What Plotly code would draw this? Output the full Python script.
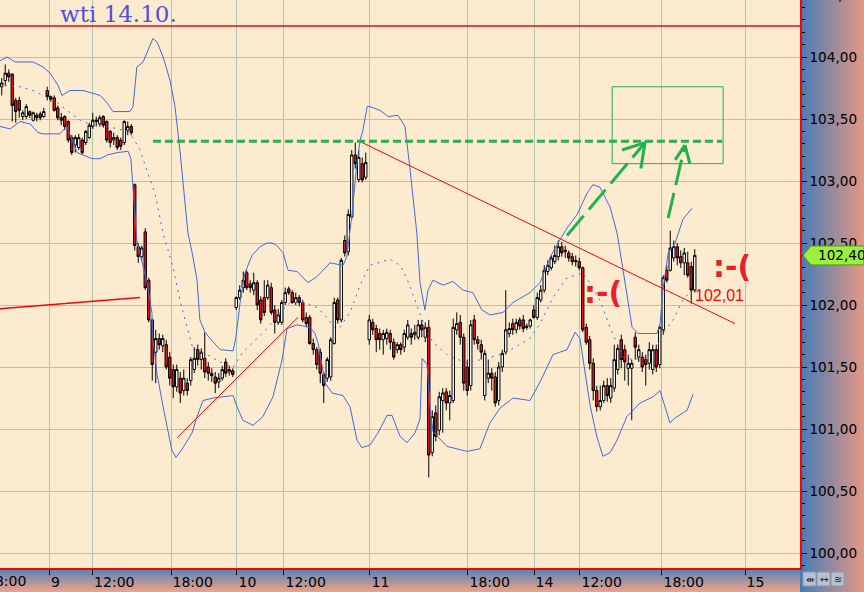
import plotly.graph_objects as go

# ---------------- data ----------------
bar_index = list(range(199))

open_ = [
    103.76, 103.81, 103.87, 103.86, 103.65, 103.65, 103.52, 103.52, 103.56, 103.49,
    103.53, 103.54, 103.52, 103.73, 103.68, 103.67, 103.59, 103.51, 103.52, 103.48,
    103.35, 103.29, 103.27, 103.33, 103.31, 103.35, 103.44, 103.48, 103.46, 103.52,
    103.48, 103.40, 103.33, 103.35, 103.33, 103.31, 103.41, 103.44, 102.97, 102.47,
    102.39, 102.59, 102.20, 101.88, 101.62, 101.73, 101.67, 101.68, 101.58, 101.48,
    101.34, 101.41, 101.31, 101.37, 101.39, 101.48, 101.64, 101.56, 101.57, 101.50,
    101.45, 101.42, 101.38, 101.41, 101.54, 101.46, 101.47, 101.98, 102.06, 102.14,
    102.26, 102.17, 102.12, 102.18, 102.04, 102.06, 102.06, 102.14, 101.96, 101.86,
    101.86, 102.02, 102.13, 102.10, 102.02, 102.06, 102.02, 101.90, 101.90, 101.69,
    101.64, 101.62, 101.44, 101.41, 101.42, 101.69, 102.04, 101.88, 102.52, 102.43,
    102.71, 103.21, 103.01, 103.14, 103.03, 101.72, 101.86, 101.81, 101.77, 101.72,
    101.73, 101.77, 101.70, 101.64, 101.68, 101.66, 101.74, 101.77, 101.76, 101.74,
    101.84, 101.74, 101.82, 100.81, 101.13, 100.99, 101.23, 101.30, 101.21, 101.23,
    101.80, 101.86, 101.74, 101.50, 101.35, 101.88, 101.72, 101.68, 101.27, 101.41,
    101.45, 101.42, 101.23, 101.50, 101.62, 101.77, 101.85, 101.80, 101.88, 101.88,
    101.83, 101.83, 101.96, 101.90, 102.04, 102.12, 102.27, 102.30, 102.35, 102.39,
    102.47, 102.43, 102.42, 102.39, 102.36, 102.35, 102.30, 101.82, 101.72, 101.53,
    101.31, 101.18, 101.23, 101.35, 101.25, 101.33, 101.48, 101.72, 101.64, 101.49,
    101.49, 101.74, 101.58, 101.58, 101.56, 101.53, 101.48, 101.64, 101.52, 101.80,
    102.28, 102.28, 102.38, 102.47, 102.39, 102.34, 102.34, 102.31, 102.12,
]
high = [
    103.83, 103.94, 103.90, 103.87, 103.67, 103.68, 103.57, 103.62, 103.57, 103.56,
    103.55, 103.56, 103.59, 103.76, 103.69, 103.69, 103.61, 103.55, 103.53, 103.49,
    103.37, 103.37, 103.38, 103.35, 103.41, 103.47, 103.55, 103.52, 103.53, 103.53,
    103.49, 103.41, 103.39, 103.37, 103.35, 103.49, 103.48, 103.46, 102.98, 102.50,
    102.48, 102.62, 102.22, 101.89, 101.80, 101.77, 101.76, 101.72, 101.62, 101.52,
    101.52, 101.46, 101.48, 101.41, 101.58, 101.66, 101.68, 101.65, 101.78, 101.54,
    101.49, 101.46, 101.45, 101.51, 101.57, 101.51, 101.49, 102.07, 102.16, 102.27,
    102.28, 102.20, 102.26, 102.20, 102.07, 102.20, 102.20, 102.18, 102.00, 101.97,
    102.04, 102.14, 102.15, 102.12, 102.10, 102.08, 102.04, 101.94, 101.92, 101.73,
    101.66, 101.65, 101.46, 101.58, 101.74, 102.06, 102.06, 102.38, 102.56, 102.77,
    103.25, 103.31, 103.25, 103.19, 103.23, 101.92, 101.89, 101.84, 101.81, 101.80,
    101.81, 101.80, 101.73, 101.70, 101.70, 101.80, 101.88, 101.81, 101.84, 101.88,
    101.88, 101.86, 101.88, 101.15, 101.19, 101.30, 101.33, 101.33, 101.31, 101.89,
    101.94, 101.92, 101.77, 101.56, 101.88, 101.92, 101.75, 101.72, 101.64, 101.56,
    101.49, 101.46, 101.54, 101.64, 102.12, 101.86, 101.89, 101.89, 101.90, 101.92,
    101.85, 101.89, 102.00, 102.10, 102.16, 102.32, 102.36, 102.40, 102.48, 102.52,
    102.51, 102.48, 102.44, 102.42, 102.40, 102.38, 102.31, 101.85, 101.75, 101.57,
    101.35, 101.35, 101.39, 101.41, 101.41, 101.68, 101.68, 101.76, 101.68, 101.60,
    101.56, 101.78, 101.68, 101.62, 101.60, 101.70, 101.68, 101.68, 101.84, 102.24,
    102.32, 102.60, 102.52, 102.50, 102.44, 102.46, 102.43, 102.35, 102.45,
]
low = [
    103.69, 103.77, 103.80, 103.48, 103.47, 103.51, 103.49, 103.50, 103.51, 103.48,
    103.48, 103.49, 103.51, 103.65, 103.64, 103.56, 103.49, 103.45, 103.41, 103.31,
    103.21, 103.23, 103.25, 103.21, 103.29, 103.34, 103.42, 103.44, 103.44, 103.43,
    103.31, 103.27, 103.29, 103.25, 103.25, 103.29, 103.37, 103.37, 102.44, 102.34,
    102.36, 102.12, 101.86, 101.39, 101.37, 101.64, 101.62, 101.48, 101.35, 101.25,
    101.30, 101.21, 101.27, 101.27, 101.35, 101.45, 101.51, 101.48, 101.41, 101.39,
    101.38, 101.29, 101.33, 101.39, 101.42, 101.43, 101.42, 101.96, 102.04, 102.10,
    102.12, 102.10, 102.08, 101.96, 101.85, 101.91, 102.04, 101.92, 101.77, 101.84,
    101.84, 102.00, 102.08, 102.01, 102.00, 101.99, 101.86, 101.82, 101.68, 101.60,
    101.48, 101.37, 101.21, 101.38, 101.39, 101.68, 101.85, 101.86, 102.39, 102.40,
    102.69, 103.10, 102.99, 102.99, 103.01, 101.68, 101.76, 101.62, 101.64, 101.60,
    101.68, 101.64, 101.56, 101.61, 101.60, 101.62, 101.72, 101.68, 101.72, 101.72,
    101.74, 101.70, 100.61, 100.78, 100.90, 100.95, 100.97, 101.15, 101.07, 101.21,
    101.76, 101.68, 101.31, 101.27, 101.31, 101.68, 101.64, 101.56, 101.23, 101.37,
    101.31, 101.18, 101.19, 101.46, 101.60, 101.74, 101.76, 101.77, 101.80, 101.78,
    101.80, 101.81, 101.89, 101.88, 102.02, 102.10, 102.24, 102.28, 102.33, 102.36,
    102.39, 102.38, 102.35, 102.32, 102.31, 102.28, 101.78, 101.68, 101.48, 101.23,
    101.14, 101.15, 101.21, 101.22, 101.21, 101.30, 101.44, 101.49, 101.39, 101.35,
    101.07, 101.56, 101.54, 101.46, 101.35, 101.48, 101.44, 101.46, 101.49, 101.76,
    102.18, 102.27, 102.35, 102.32, 102.30, 102.24, 102.22, 102.01, 102.10,
]
close = [
    103.79, 103.87, 103.84, 103.61, 103.56, 103.57, 103.55, 103.60, 103.53, 103.55,
    103.51, 103.51, 103.56, 103.68, 103.66, 103.57, 103.51, 103.49, 103.44, 103.33,
    103.23, 103.35, 103.35, 103.23, 103.40, 103.45, 103.49, 103.49, 103.51, 103.45,
    103.33, 103.31, 103.35, 103.27, 103.28, 103.48, 103.44, 103.39, 102.48, 102.39,
    102.46, 102.14, 101.88, 101.52, 101.73, 101.68, 101.73, 101.50, 101.41, 101.34,
    101.48, 101.29, 101.41, 101.31, 101.56, 101.57, 101.56, 101.62, 101.46, 101.45,
    101.43, 101.37, 101.41, 101.48, 101.45, 101.48, 101.44, 102.06, 102.12, 102.20,
    102.14, 102.14, 102.18, 102.00, 101.88, 101.94, 102.16, 101.94, 101.86, 101.92,
    102.02, 102.10, 102.10, 102.02, 102.06, 102.02, 101.88, 101.85, 101.69, 101.64,
    101.52, 101.45, 101.35, 101.56, 101.72, 102.02, 101.88, 102.36, 102.42, 102.73,
    103.21, 103.14, 103.19, 103.01, 103.15, 101.88, 101.80, 101.72, 101.72, 101.77,
    101.78, 101.70, 101.58, 101.68, 101.64, 101.77, 101.84, 101.74, 101.78, 101.84,
    101.80, 101.82, 100.79, 101.10, 100.94, 101.26, 101.29, 101.21, 101.27, 101.82,
    101.85, 101.74, 101.37, 101.31, 101.84, 101.72, 101.69, 101.62, 101.61, 101.45,
    101.41, 101.21, 101.50, 101.61, 101.80, 101.81, 101.80, 101.86, 101.83, 101.81,
    101.82, 101.88, 101.90, 102.06, 102.12, 102.28, 102.32, 102.38, 102.40, 102.47,
    102.42, 102.44, 102.38, 102.35, 102.35, 102.30, 101.80, 101.70, 101.53, 101.31,
    101.18, 101.23, 101.35, 101.27, 101.35, 101.56, 101.65, 101.56, 101.54, 101.53,
    101.53, 101.66, 101.64, 101.50, 101.52, 101.64, 101.64, 101.50, 101.82, 102.22,
    102.20, 102.46, 102.47, 102.38, 102.34, 102.42, 102.24, 102.12, 102.40,
]

# Bollinger bands (bar position, price)
upper_x = [-0.5, 1.5, 3.8, 8.9, 11.8, 13.8, 16.1, 17.2, 19.5, 23.2, 28.1, 30.1, 31.8, 36.6, 37.5,
           38.6, 40.4, 41.8, 43.2, 44.4, 46.1, 48.1, 49.5, 50.9, 51.8, 53.2, 54.4, 55.8, 56.6, 58.1,
           59.5, 62.4, 66.1, 66.9, 68.1, 69.5, 71.5, 73.8, 75.8, 77.2, 78.6, 80.4, 81.8, 84.4, 87.5,
           90.1, 93.8, 97.5, 98.6, 100.1, 101.5, 102.4, 103.2, 104.4, 105.2, 108.1, 110.4, 113.2, 115.2,
           116.6, 118.6, 119.5, 120.9, 121.8, 123.2, 126.1, 128.9, 131.8, 134.6, 137.2, 139.5, 143.2,
           146.1, 150.9, 153.8, 156.6, 158.9, 161.5, 164.4, 167.2, 168.9, 170.9, 173.8, 175.8, 177.2,
           178.6, 180.1, 181.8, 187.2, 188.1, 188.9, 190.4, 192.4, 194.6, 197.2]
upper_y = [103.97, 104.00, 103.96, 103.96, 103.92, 103.87, 103.77, 103.69, 103.73, 103.73, 103.69,
           103.63, 103.56, 103.56, 103.60, 103.92, 103.96, 104.06, 104.15, 104.12, 104.00, 103.81,
           103.60, 103.25, 103.01, 102.58, 102.42, 102.20, 101.88, 101.78, 101.73, 101.64, 101.63,
           101.74, 102.02, 102.26, 102.40, 102.47, 102.50, 102.50, 102.48, 102.42, 102.28, 102.27,
           102.18, 102.23, 102.34, 102.32, 102.39, 102.74, 103.15, 103.33, 103.41, 103.60, 103.60,
           103.57, 103.52, 103.53, 103.44, 103.11, 102.58, 102.18, 101.96, 102.12, 102.20, 102.16,
           102.19, 102.12, 102.10, 101.96, 101.92, 101.94, 102.02, 102.10, 102.18, 102.38, 102.50,
           102.62, 102.73, 102.90, 102.97, 102.95, 102.79, 102.58, 102.34, 102.10, 101.82, 101.77,
           101.77, 101.85, 102.12, 102.42, 102.50, 102.69, 102.78]
lower_x = [-0.5, 2.4, 5.2, 8.1, 10.4, 11.8, 16.6, 18.6, 21.5, 25.8, 28.1, 30.1, 33.2, 36.1, 36.9,
           37.5, 38.6, 41.5, 42.9, 43.2, 44.4, 46.1, 47.2, 48.6, 49.8, 51.8, 54.4, 55.8, 57.5, 60.4,
           66.1, 67.2, 68.9, 71.8, 74.6, 77.5, 80.1, 81.5, 84.4, 88.1, 89.5, 90.4, 92.4, 94.4, 97.5,
           99.5, 101.5, 102.9, 105.2, 107.5, 110.1, 111.5, 113.8, 115.8, 118.1, 119.5, 120.1, 121.5,
           122.4, 123.2, 127.2, 132.9, 136.6, 139.5, 142.4, 146.1, 150.9, 153.8, 157.5, 161.5, 163.8,
           165.2, 168.1, 170.1, 171.8, 173.8, 175.8, 178.6, 182.4, 186.1, 188.1, 188.9, 190.9, 192.4,
           195.8, 197.5]
lower_y = [103.44, 103.42, 103.48, 103.46, 103.39, 103.38, 103.38, 103.44, 103.23, 103.18, 103.18,
           103.21, 103.23, 103.24, 103.18, 102.97, 102.52, 102.18, 101.94, 101.72, 101.44, 101.18,
           101.02, 100.83, 100.77, 100.85, 100.97, 101.10, 101.23, 101.25, 101.27, 101.18, 101.07,
           101.03, 101.10, 101.26, 101.56, 101.81, 101.84, 101.82, 101.77, 101.69, 101.37, 101.29,
           101.27, 101.18, 100.91, 100.85, 100.87, 100.97, 101.11, 101.11, 100.94, 100.89, 100.97,
           101.08, 101.57, 101.52, 101.17, 100.98, 100.86, 100.82, 100.84, 101.05, 101.17, 101.25,
           101.23, 101.38, 101.60, 101.64, 101.78, 101.73, 101.19, 100.93, 100.78, 100.81, 100.91,
           101.10, 101.21, 101.26, 101.31, 101.23, 101.05, 101.09, 101.15, 101.28]
mid_x = [0.9, 5.2, 8.9, 11.8, 15.2, 18.6, 22.4, 25.8, 30.1, 34.6, 37.5, 39.5, 41.8, 43.8, 46.1, 48.9,
         50.9, 52.9, 54.6, 58.6, 62.4, 66.1, 68.9, 71.8, 75.8, 79.5, 82.4, 86.6, 90.1, 92.9, 95.2,
         96.6, 99.5, 102.4, 105.2, 110.9, 113.8, 115.8, 117.5, 119.5, 121.5, 123.2, 127.2, 132.9,
         138.6, 142.4, 146.1, 150.9, 153.8, 157.5, 161.5, 166.1, 168.9, 170.9, 173.8, 175.8, 177.5,
         180.4, 184.4, 187.2, 188.9, 191.8, 194.6, 197.2]
mid_y = [103.77, 103.76, 103.73, 103.69, 103.65, 103.57, 103.49, 103.45, 103.44, 103.41, 103.35,
         103.25, 103.06, 102.90, 102.58, 102.31, 102.04, 101.82, 101.65, 101.60, 101.54, 101.50,
         101.62, 101.70, 101.81, 101.94, 102.02, 102.02, 101.98, 101.90, 101.81, 101.82, 101.94,
         102.16, 102.32, 102.37, 102.32, 102.21, 102.08, 101.94, 101.78, 101.70, 101.60, 101.53,
         101.57, 101.60, 101.65, 101.73, 101.85, 102.06, 102.22, 102.26, 102.14, 102.04, 101.82,
         101.69, 101.58, 101.56, 101.58, 101.66, 101.77, 101.88, 102.04, 102.12]

# time axis (bar positions of the session ticks)
time_tick_pos = [-6.5, 13.67, 25.96, 48.36, 67.21, 80.64, 105.21, 133.21, 152.07, 165.21, 188.64, 212.36]
time_tick_text = ["18:00", "9", "12:00", "18:00", "10", "12:00", "11", "18:00", "14", "12:00", "18:00", "15"]

price_ticks = [100.0, 100.5, 101.0, 101.5, 102.0, 102.5, 103.0, 103.5, 104.0, 104.5]
price_tick_text = ["100,00", "100,50", "101,00", "101,50", "102,00", "102,50", "103,00", "103,50", "104,00", "104,50"]

# hand drawn analysis objects (bar position, price)
level_price = 104.25
target_line = ([43.2, 205.8], [103.32, 103.32])
resistance_line = ([101.5, 209.5], [103.33, 101.85])
old_line = ([-0.5, 39.5], [101.97, 102.06])
support_line = ([50.1, 84.6], [100.93, 101.90])
target_box = ([174.4, 206.1], [103.14, 103.76])
arrow1 = ([161.5, 183.8], [102.56, 103.31])
arrow1_barbs = ([177.2, 182.6], [103.25, 103.10])
arrow2 = ([190.4, 195.2], [102.70, 103.29])
arrow2_barbs = ([192.4, 196.6], [103.17, 103.14])
title_text = "wti 14.10."
smiley = ":-("
smiley_pos = [(171.8, 102.10), (208.6, 102.31)]
low_label_pos = (197.5, 102.08)

# ---------------- geometry / style ----------------
W, H = 864, 592
PLOT_W, PLOT_H = 800, 568
BAR_PX = 3.5
X_RANGE = [-0.5, -0.5 + PLOT_W / BAR_PX]
Y_RANGE = [99.8792, 104.4597]
Y_DOM0 = (H - PLOT_H) / H

BG = "#FDEBD0"
GRID = "#AAC8AF"
BAND = "#4169E1"
GREEN = "#22B14C"
RED = "#FF0000"
FONT = "DejaVu Sans"


def price_to_paper(p):
    return Y_DOM0 + (p - Y_RANGE[0]) / (Y_RANGE[1] - Y_RANGE[0]) * PLOT_H / H


def bar_to_paper(i):
    return (i - X_RANGE[0]) / (X_RANGE[1] - X_RANGE[0]) * PLOT_W / W


def lerp(c0, c1, t):
    return "rgb(%d,%d,%d)" % tuple(round(a + (b - a) * t) for a, b in zip(c0, c1))


fig = go.Figure()

fig.add_trace(go.Candlestick(
    x=bar_index, open=open_, high=high, low=low, close=close,
    increasing=dict(line=dict(color="black", width=1), fillcolor="white"),
    decreasing=dict(line=dict(color="black", width=1), fillcolor="#EE1111"),
    whiskerwidth=0, hoverinfo="skip", showlegend=False))

for xs, ys, dash in [(upper_x, upper_y, "solid"), (lower_x, lower_y, "solid"), (mid_x, mid_y, "2px,5px")]:
    fig.add_trace(go.Scatter(x=xs, y=ys, mode="lines", line=dict(color=BAND, width=1, dash=dash),
                             hoverinfo="skip", showlegend=False))

shapes = []
# gradient strips of the axis panels
A, B = (72, 124, 182), (226, 152, 134)
n = 32
for k in range(n):
    shapes.append(dict(type="rect", xref="paper", yref="paper", layer="below",
                       x0=(PLOT_W + 2 * k) / W, x1=(PLOT_W + 2 * k + 2) / W, y0=0, y1=1,
                       fillcolor=lerp(A, B, k / (n - 1)), line=dict(width=0)))
TB, BB = (82, 132, 186), (232, 162, 140)
m = 12
for k in range(m):
    shapes.append(dict(type="rect", xref="paper", yref="paper", layer="below",
                       x0=0, x1=PLOT_W / W, y0=(H - PLOT_H - 2 * k - 2) / H, y1=(H - PLOT_H - 2 * k) / H,
                       fillcolor=lerp(TB, BB, k / (m - 1)), line=dict(width=0)))
# corner buttons
for k in range(3):
    shapes.append(dict(type="rect", xref="paper", yref="paper",
                       x0=(803 + 14 * k) / W, x1=(816 + 14 * k) / W, y0=6 / H, y1=20 / H,
                       fillcolor="#B7C1D3", line=dict(color="#8C96AA", width=1)))

# drawings
shapes.append(dict(type="line", xref="x domain", yref="y", x0=0, x1=1, y0=level_price, y1=level_price,
                   line=dict(color=RED, width=1.5)))
for (xs, ys), col, wdt, dsh in [
    (old_line, RED, 1.5, "solid"),
    (support_line, RED, 1, "solid"),
    (resistance_line, RED, 1, "solid"),
    (target_line, GREEN, 3, "8px,4px"),
]:
    shapes.append(dict(type="line", xref="x", yref="y", x0=xs[0], x1=xs[1], y0=ys[0], y1=ys[1],
                       line=dict(color=col, width=wdt, dash=dsh)))
shapes.append(dict(type="rect", xref="x", yref="y", x0=target_box[0][0], x1=target_box[0][1],
                   y0=target_box[1][0], y1=target_box[1][1], line=dict(color=GREEN, width=1)))
for (axs, ays), (bxs, bys) in [(arrow1, arrow1_barbs), (arrow2, arrow2_barbs)]:
    tip_x, tip_y = axs[1], ays[1]
    shapes.append(dict(type="line", xref="x", yref="y", x0=axs[0], y0=ays[0], x1=tip_x, y1=tip_y,
                       line=dict(color=GREEN, width=3, dash="26px,8px")))
    for bx, by in zip(bxs, bys):
        shapes.append(dict(type="line", xref="x", yref="y", x0=bx, y0=by, x1=tip_x, y1=tip_y,
                           line=dict(color=GREEN, width=3)))

# last price tag
last = close[-1]
yc = price_to_paper(last)
hh = 9.5 / H
shapes.append(dict(type="path", xref="paper", yref="paper",
                   path=f"M {803 / W},{yc} L {811 / W},{yc + hh} L 1,{yc + hh} L 1,{yc - hh} L {811 / W},{yc - hh} Z",
                   fillcolor="#9BEF3F", line=dict(color="#4E9A1E", width=1)))

annotations = [
    dict(text=title_text, xref="paper", yref="paper", x=58 / W, y=1 - 14 / H, xanchor="left", yanchor="middle",
         showarrow=False, font=dict(family="DejaVu Serif", size=23, color="#5050DC")),
    dict(text=f"{last:.2f}".replace(".", ","), xref="paper", yref="paper", x=816 / W, y=yc,
         xanchor="left", yanchor="middle", showarrow=False, font=dict(family=FONT, size=13.6, color="black")),
    dict(text=f"{low[-2]:.2f}".replace(".", ","), xref="x", yref="y", x=low_label_pos[0], y=low_label_pos[1],
         xanchor="left", yanchor="middle", showarrow=False, font=dict(family="Liberation Sans", size=16, color=RED)),
    dict(text=price_tick_text[-1], xref="paper", yref="paper", x=810 / W, y=price_to_paper(price_ticks[-1]),
         xanchor="left", yanchor="middle", showarrow=False, font=dict(family=FONT, size=13.6, color="black")),
    dict(text=time_tick_text[0], xref="paper", yref="paper", x=bar_to_paper(time_tick_pos[0]) + 5 / W,
         y=11 / H, xanchor="left", yanchor="middle", showarrow=False,
         font=dict(family=FONT, size=14, color="black")),
]
for sx, sy in smiley_pos:
    annotations.append(dict(text=f"<b>{smiley}</b>", xref="x", yref="y", x=sx, y=sy, xanchor="center",
                            yanchor="middle", showarrow=False, font=dict(family=FONT, size=30, color="#E8202C")))
for k, sym in enumerate(["⇹", "↔", "≋"]):
    annotations.append(dict(text=sym, xref="paper", yref="paper", x=(809.5 + 14 * k) / W, y=13 / H,
                            xanchor="center", yanchor="middle", showarrow=False,
                            font=dict(family=FONT, size=10, color="#222222")))

fig.update_layout(
    width=W, height=H, margin=dict(l=0, r=0, t=0, b=0),
    paper_bgcolor="#C9A89E", plot_bgcolor=BG, showlegend=False, hovermode=False,
    boxgap=0.02,
    shapes=shapes, annotations=annotations,
    xaxis=dict(domain=[0, PLOT_W / W], range=X_RANGE, fixedrange=True,
               tickmode="array", tickvals=time_tick_pos, ticktext=time_tick_text,
               showgrid=True, gridcolor=GRID, gridwidth=1, zeroline=False,
               showline=True, linecolor=RED, linewidth=2,
               ticks="outside", ticklen=5, tickcolor="black", tickwidth=1,
               ticklabelposition="outside right",
               tickfont=dict(family=FONT, size=14, color="black"),
               rangeslider=dict(visible=False)),
    yaxis=dict(domain=[Y_DOM0, 1], range=Y_RANGE, side="right", fixedrange=True,
               tickmode="array", tickvals=price_ticks, ticktext=price_tick_text,
               showgrid=True, gridcolor=GRID, gridwidth=1, zeroline=False,
               showline=True, linecolor=RED, linewidth=1.5,
               ticks="outside", ticklen=5, tickcolor="black", tickwidth=1,
               tickfont=dict(family=FONT, size=13.6, color="black"),
               minor=dict(ticks="outside", ticklen=3, tickcolor="black", dtick=0.1, tick0=100,
                          showgrid=False)),
)

fig.write_html("out.html", config={"displayModeBar": False},
               post_script="document.body.style.margin='0';document.body.style.overflow='hidden';")
